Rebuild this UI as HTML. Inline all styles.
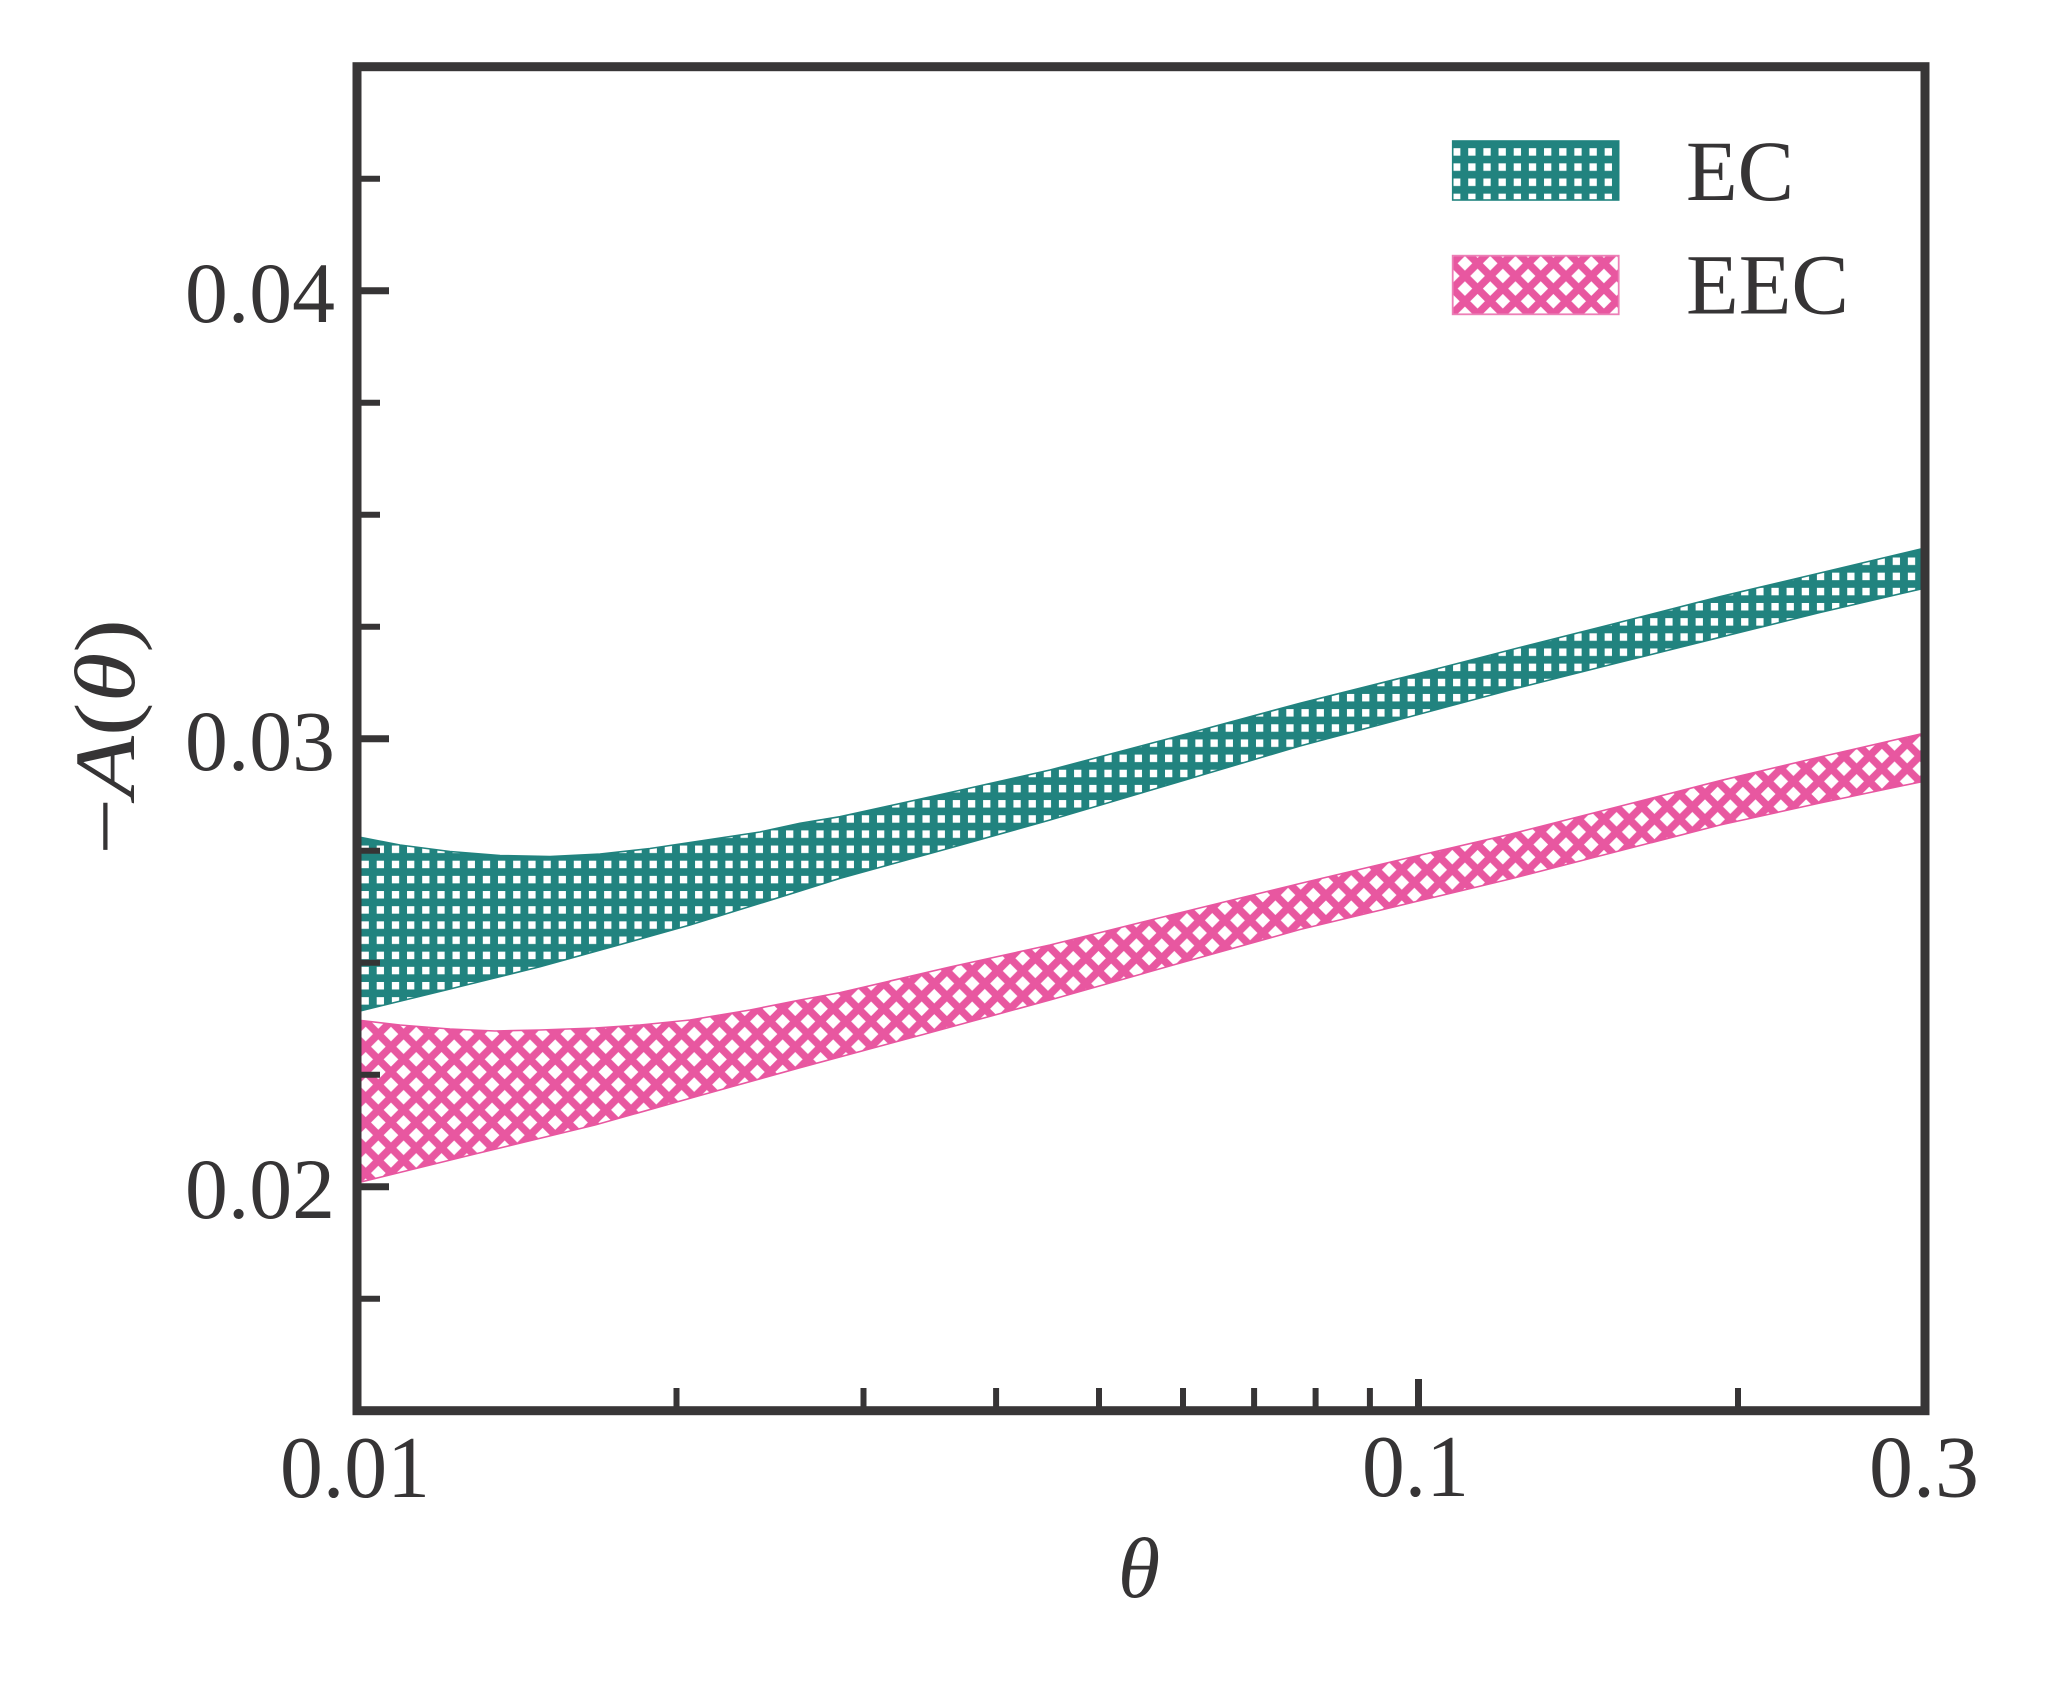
<!DOCTYPE html>
<html>
<head>
<meta charset="utf-8">
<style>
  html, body { margin: 0; padding: 0; background: #ffffff; }
  svg { display: block; }
  text { font-family: "Liberation Serif", "DejaVu Serif", serif; fill: #363435; }
</style>
</head>
<body>
<svg width="2048" height="1683" viewBox="0 0 2048 1683" xmlns="http://www.w3.org/2000/svg">
  <defs>
    <pattern id="pEC" patternUnits="userSpaceOnUse" x="376.7" y="860.7" width="15.16" height="15.16">
      <rect x="0" y="0" width="15.16" height="15.16" fill="#21837f"/>
      <rect x="0" y="0" width="7.3" height="7.5" fill="#ffffff"/>
    </pattern>
    <pattern id="pEEC" patternUnits="userSpaceOnUse" x="365.7" y="1046.7" width="25.27" height="25.27">
      <rect x="0" y="0" width="25.27" height="25.27" fill="#ffffff"/>
      <path d="M-25.27,-25.27 L50.54,50.54 M-50.54,-25.27 L25.27,50.54 M0,-25.27 L75.81,50.54
               M25.27,-25.27 L-50.54,50.54 M50.54,-25.27 L-25.27,50.54 M75.81,-25.27 L0,50.54"
            stroke="#e857a0" stroke-width="7.5" fill="none"/>
    </pattern>
    <clipPath id="axclip">
      <rect x="357" y="66.7" width="1568" height="1344"/>
    </clipPath>
  </defs>

  <rect x="0" y="0" width="2048" height="1683" fill="#ffffff"/>

  <g clip-path="url(#axclip)">
    <!-- EC band -->
    <path fill="url(#pEC)" stroke="#21837f" stroke-width="1.6" stroke-linejoin="round"
      d="M357,836.7 L400,845 L450,851.5 L500,855.5 L550,856.5 L600,854 L650,848.5 L700,841 L760,832 L800,823.3 L840,816.7 L950,792.5 L1050,770 L1175,737 L1300,703.3 L1405,677 L1510,650 L1615,623.5 L1720,596.7 L1820,573 L1925,548
         L1925,588 L1820,612.5 L1720,637.3 L1615,663.5 L1510,690 L1405,718 L1300,746 L1175,783 L1050,820 L950,848 L840,878.3 L800,891 L690,925 L615,946 L540,966.7 L450,989 L357,1011.7 Z"/>
    <!-- EEC band -->
    <path fill="url(#pEEC)" stroke="#e857a0" stroke-width="1.6" stroke-linejoin="round"
      d="M357,1020 L400,1025 L450,1029 L495,1031 L540,1030 L595,1028 L640,1025 L690,1020 L750,1010 L800,1000 L840,992.7 L950,967 L1050,945 L1175,914 L1300,883.5 L1410,857.5 L1510,834.3 L1615,807.5 L1720,780.7 L1820,757 L1925,733
         L1925,781 L1820,803 L1720,825 L1615,852 L1510,879 L1410,903 L1300,929.5 L1175,964.5 L1050,1000 L925,1034 L800,1067.7 L700,1095.5 L595,1125 L475,1154 L357,1183 Z"/>
  </g>

  <!-- Y ticks (inward) -->
  <g stroke="#363435" fill="none">
    <g stroke-width="7">
      <line x1="357" y1="290.7" x2="389" y2="290.7"/>
      <line x1="357" y1="738.7" x2="389" y2="738.7"/>
      <line x1="357" y1="1186.7" x2="389" y2="1186.7"/>
    </g>
    <g stroke-width="6">
      <line x1="357" y1="178.7" x2="380" y2="178.7"/>
      <line x1="357" y1="402.7" x2="380" y2="402.7"/>
      <line x1="357" y1="514.7" x2="380" y2="514.7"/>
      <line x1="357" y1="626.7" x2="380" y2="626.7"/>
      <line x1="357" y1="850.7" x2="380" y2="850.7"/>
      <line x1="357" y1="962.7" x2="380" y2="962.7"/>
      <line x1="357" y1="1074.7" x2="380" y2="1074.7"/>
      <line x1="357" y1="1298.7" x2="380" y2="1298.7"/>
    </g>
    <!-- X ticks -->
    <g stroke-width="7">
      <line x1="1418.5" y1="1410.7" x2="1418.5" y2="1379"/>
    </g>
    <g stroke-width="6">
      <line x1="676.5" y1="1410.7" x2="676.5" y2="1388"/>
      <line x1="863.5" y1="1410.7" x2="863.5" y2="1388"/>
      <line x1="996.1" y1="1410.7" x2="996.1" y2="1388"/>
      <line x1="1099" y1="1410.7" x2="1099" y2="1388"/>
      <line x1="1183" y1="1410.7" x2="1183" y2="1388"/>
      <line x1="1254.1" y1="1410.7" x2="1254.1" y2="1388"/>
      <line x1="1315.6" y1="1410.7" x2="1315.6" y2="1388"/>
      <line x1="1369.9" y1="1410.7" x2="1369.9" y2="1388"/>
      <line x1="1738" y1="1410.7" x2="1738" y2="1388"/>
    </g>
  </g>

  <!-- Frame -->
  <rect x="357" y="66.7" width="1568" height="1344" fill="none" stroke="#383637" stroke-width="9"/>

  <!-- Y tick labels -->
  <g font-size="86">
    <text x="335" y="322" text-anchor="end" textLength="150" lengthAdjust="spacingAndGlyphs">0.04</text>
    <text x="335" y="770" text-anchor="end" textLength="150" lengthAdjust="spacingAndGlyphs">0.03</text>
    <text x="335" y="1218" text-anchor="end" textLength="150" lengthAdjust="spacingAndGlyphs">0.02</text>
  </g>

  <!-- X tick labels -->
  <g font-size="88">
    <text x="280" y="1497" textLength="150" lengthAdjust="spacingAndGlyphs">0.01</text>
    <text x="1362" y="1496" textLength="107" lengthAdjust="spacingAndGlyphs">0.1</text>
    <text x="1869" y="1496.5" textLength="110" lengthAdjust="spacingAndGlyphs">0.3</text>
  </g>

  <!-- Axis labels -->
  <text x="1139" y="1597" font-size="86" font-style="italic" text-anchor="middle">θ</text>
  <text transform="translate(134,737) rotate(-90)" font-size="86" text-anchor="middle" textLength="236" lengthAdjust="spacingAndGlyphs">−<tspan font-style="italic">A</tspan>(<tspan font-style="italic">θ</tspan>)</text>

  <!-- Legend -->
  <rect x="1452.7" y="141" width="166" height="59" fill="url(#pEC)" stroke="#21837f" stroke-width="1.6"/>
  <rect x="1452.7" y="255.7" width="166" height="58.6" fill="url(#pEEC)" stroke="#ec7fb6" stroke-width="1.8"/>
  <text x="1686" y="200" font-size="86" textLength="108" lengthAdjust="spacingAndGlyphs">EC</text>
  <text x="1686" y="313.3" font-size="86" textLength="163" lengthAdjust="spacingAndGlyphs">EEC</text>
</svg>
</body>
</html>
